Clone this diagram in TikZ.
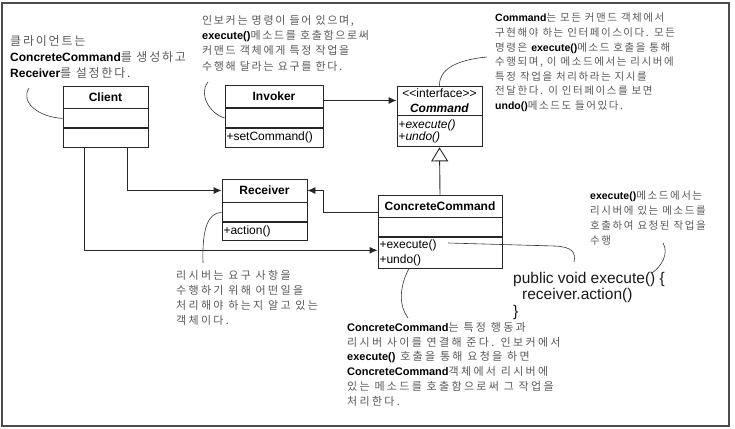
\documentclass[tikz,border=0pt]{standalone}
\usepackage{fontspec}
\setmainfont{Liberation Sans}
\newfontfamily\kr[LetterSpace=15]{Noto Sans CJK KR}
\newfontfamily\krwide[LetterSpace=21]{Noto Sans CJK KR}
\usetikzlibrary{positioning,arrows.meta,calc}
\newcommand\en[1]{{\rmfamily\bfseries\color{black}#1}}
\tikzset{
  % class boxes: header and compartments
  classhead/.style={draw=black!85,line width=.9pt,minimum height=22pt,inner sep=1pt,font=\bfseries\fontsize{12}{14}\selectfont},
  classpart/.style={draw=black!85,line width=.9pt,minimum height=19pt,inner xsep=1.5pt,inner ysep=1pt,align=left,font=\fontsize{12}{13.5}\selectfont},
  % connectors
  assoc/.style={draw=black!85,line width=.9pt,-{Latex[length=8pt,width=7pt]}},
  realize/.style={draw=black!85,line width=.9pt,-{Triangle[open,length=14pt,width=17pt]}},
  hook/.style={draw=black!80,line width=.6pt},
  % notes
  note/.style={anchor=north west,inner sep=0pt,align=left,text=black!65},
}
\begin{document}
\begin{tikzpicture}[x=1pt,y=-1pt]
  \useasboundingbox (0,0) rectangle (735,428);
  \draw[black!70,line width=1.2pt] (2,3) rectangle (729,426);

  % Client
  \node[classhead,minimum width=85pt] (client) at (105.5,97) {Client};
  \node[classpart,text width=82pt,below=0pt of client] (client-a) {};
  \node[classpart,text width=82pt,below=0pt of client-a] (client-m) {};

  % Invoker
  \node[classhead,minimum width=98pt] (invoker) at (274,96.5) {Invoker};
  \node[classpart,text width=95pt,below=0pt of invoker] (invoker-a) {};
  \node[classpart,text width=95pt,below=0pt of invoker-a] (invoker-m) {+setCommand()};

  % Command
  \node[classhead,minimum width=85pt,minimum height=29pt,align=center,font=\fontsize{12}{15}\selectfont] (command) at (439.5,100.5) {<{}<interface>{}>\\\textbf{\textit{Command}}};
  \node[classpart,text width=82pt,minimum height=31pt,below=0pt of command,font=\fontsize{12}{12.5}\selectfont] (command-m) {+\textit{execute()}\\+\textit{undo()}};

  % Receiver
  \node[classhead,minimum width=85pt,minimum height=23pt] (receiver) at (264.5,190.5) {Receiver};
  \node[classpart,text width=82pt,below=0pt of receiver] (receiver-a) {};
  \node[classpart,text width=82pt,minimum height=18pt,below=0pt of receiver-a] (receiver-m) {+action()};

  % ConcreteCommand
  \node[classhead,minimum width=124pt] (cc) at (440,206) {ConcreteCommand};
  \node[classpart,text width=121pt,below=0pt of cc] (cc-a) {};
  \node[classpart,text width=121pt,minimum height=31pt,below=0pt of cc-a,font=\fontsize{12}{15}\selectfont] (cc-m) {+execute()\\+undo()};

  \draw[assoc] (command.west -| invoker.east) -- (command.west);
  \draw[assoc] ([yshift=-6pt]cc.west) -| ([xshift=16pt]receiver.east) -- (receiver.east);
  \draw[assoc] ([xshift=21.5pt]client-m.south) |- (receiver.west);
  \draw[assoc] ([xshift=-21.5pt]client-m.south) |- ([yshift=3pt]cc-m.west);
  \draw[realize] (cc.north) -- (command-m.south);

  % notes
  \node[note,font=\kr\fontsize{12}{16}\selectfont] (clientnote) at (10,35) {클라이언트는\\\en{ConcreteCommand}를 생성하고\\\en{Receiver}를 설정한다.};
  \node[note,font=\kr\fontsize{11}{15.3}\selectfont] (invokernote) at (202,15) {인보커는 명령이 들어 있으며,\\\en{execute()}메소드를 호출함으로써\\커맨드 객체에게 특정 작업을\\수행해 달라는 요구를 한다.};
  \node[note,font=\kr\fontsize{10.5}{14.6}\selectfont] (commandnote) at (495,13) {\en{Command}는 모든 커맨드 객체에서\\구현해야 하는 인터페이스이다. 모든\\명령은 \en{execute()}메소드 호출을 통해\\수행되며, 이 메소드에서는 리시버에\\특정 작업을 처리하라는 지시를\\전달한다. 이 인터페이스를 보면\\\en{undo()}메소드도 들어있다.};
  \node[note,font=\krwide\fontsize{11}{15}\selectfont] (receivernote) at (176,270) {리시버는 요구 사항을\\수행하기 위해 어떤일을\\처리해야 하는지 알고 있는\\객체이다.};
  \node[note,font=\kr\fontsize{10.5}{15}\selectfont] (execnote) at (590,191) {\en{execute()}메소드에서는\\리시버에 있는 메소드를\\호출하여 요청된 작업을\\수행};
  \node[note,text=black!90,font=\fontsize{15.5}{16.5}\selectfont] (code) at (513,272) {public void execute() \{\\\hspace{9pt}receiver.action()\\\}};
  \node[note,font=\krwide\fontsize{11}{14.8}\selectfont] (ccnote) at (347,322) {\en{ConcreteCommand}는 특정 행동과\\리시버 사이를 연결해 준다. 인보커에서\\\en{execute()} 호출을 통해 요청을 하면\\\en{ConcreteCommand}객체에서 리시버에\\있는 메소드를 호출함으로써 그 작업을\\처리한다.};

  % hooks from notes to the boxes
  \coordinate (clienthook) at (29,88);
  \draw[hook] (clienthook) .. controls (20,102) and (38,117) .. (client-a.west);
  \coordinate (invokerhook) at (208,82);
  \draw[hook] (invokerhook) .. controls (198,94) and (210,114) .. (invoker-a.west);
  \coordinate (commandhook) at (487,57);
  \draw[hook] (command.north) .. controls (439,70) and (455,60) .. (commandhook);
  \coordinate (receiverhook) at (203,263);
  \draw[hook] (receiver-a.west) .. controls (208,213) and (202,228) .. (receiverhook);
  \coordinate (ccexec) at (448,243);
  \coordinate (codehook) at (574,262);
  \draw[hook] (ccexec) -- (555,246) .. controls (572,247) and (576,252) .. (codehook);
  \coordinate (exechook) at (663,243);
  \coordinate (exechookend) at (652,273);
  \draw[hook] (exechook) .. controls (669,253) and (662,266) .. (exechookend);
  \coordinate (cchook) at (408,318);
  \draw[hook] ([xshift=31pt]cc-m.south west) .. controls (399,288) and (399,306) .. (cchook);
\end{tikzpicture}
\end{document}
